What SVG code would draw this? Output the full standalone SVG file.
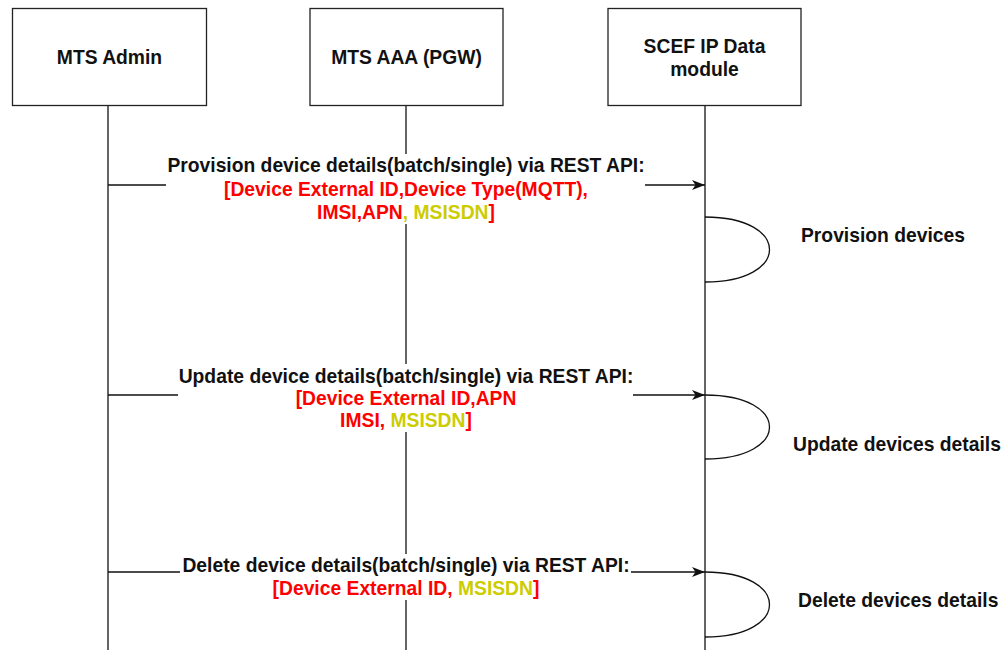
<svg xmlns="http://www.w3.org/2000/svg" width="1003" height="650" viewBox="0 0 1003 650">
<style>
.box{fill:#fff;stroke:#222;stroke-width:1.3}
.life{stroke:#111;stroke-width:1.3;fill:none}
.msg{stroke:#111;stroke-width:1.3;fill:none}
.t{font-family:"Liberation Sans",Arial,sans-serif;font-size:19.3px;font-weight:bold;fill:#111;text-anchor:middle}
.tl{font-family:"Liberation Sans",Arial,sans-serif;font-size:19.3px;font-weight:bold;fill:#111}
.r{fill:#ff0000}
.y{fill:#cccc00}
.bg{fill:#fff;stroke:none}
</style>
<defs>
<marker id="arr" markerWidth="14" markerHeight="12" refX="13" refY="6" orient="auto" markerUnits="userSpaceOnUse">
<path d="M0,1 L13,6 L0,11 L3.5,6 z" fill="#111"/>
</marker>
</defs>
<g id="lifelines">
<line class="life" x1="108" y1="105" x2="108" y2="650"/>
<line class="life" x1="406" y1="105" x2="406" y2="650"/>
<line class="life" x1="705" y1="105" x2="705" y2="650"/>
</g>
<g id="node-mts-admin">
<rect class="box" x="12.5" y="8.5" width="194" height="97"/>
<text class="t" x="109.5" y="64">MTS Admin</text>
</g>
<g id="node-mts-aaa">
<rect class="box" x="310" y="8.5" width="193" height="97"/>
<text class="t" x="406.5" y="64">MTS AAA (PGW)</text>
</g>
<g id="node-scef">
<rect class="box" x="608" y="8.5" width="193" height="97"/>
<text class="t" x="704.5" y="53">SCEF IP Data</text>
<text class="t" x="704.5" y="76">module</text>
</g>
<g id="connectors">
<line class="msg" x1="108" y1="185" x2="705" y2="185" marker-end="url(#arr)"/>
<path class="msg" d="M705,217 C791,217 791,282 705,282"/>
<line class="msg" x1="108" y1="395" x2="705" y2="395" marker-end="url(#arr)"/>
<path class="msg" d="M705,395 C791,395 791,459 705,459"/>
<line class="msg" x1="108" y1="572" x2="705" y2="572" marker-end="url(#arr)"/>
<path class="msg" d="M705,572 C791,572 791,637 705,637"/>
</g>
<g id="label-provision">
<rect class="bg" x="166" y="154" width="479" height="70"/>
<text class="t" x="406" y="172">Provision device details(batch/single) via REST API:</text>
<text class="t r" x="406" y="196">[Device External ID,Device Type(MQTT),</text>
<text class="t" x="406" y="219"><tspan class="r">IMSI,APN</tspan><tspan class="y">, MSISDN</tspan><tspan class="r">]</tspan></text>
</g>
<g id="label-update">
<rect class="bg" x="178" y="364" width="455" height="68"/>
<text class="t" x="406" y="383">Update device details(batch/single) via REST API:</text>
<text class="t r" x="406" y="405">[Device External ID,APN</text>
<text class="t" x="406" y="427"><tspan class="r">IMSI, </tspan><tspan class="y">MSISDN</tspan><tspan class="r">]</tspan></text>
</g>
<g id="label-delete">
<rect class="bg" x="180" y="554" width="451" height="46"/>
<text class="t" x="406" y="572">Delete device details(batch/single) via REST API:</text>
<text class="t" x="406" y="595"><tspan class="r">[Device External ID, </tspan><tspan class="y">MSISDN</tspan><tspan class="r">]</tspan></text>
</g>
<g id="node-provision-devices">
<text class="tl" x="801" y="242">Provision devices</text>
</g>
<g id="node-update-devices">
<text class="tl" x="793" y="451">Update devices details</text>
</g>
<g id="node-delete-devices">
<text class="tl" x="798" y="607">Delete devices details</text>
</g>
</svg>
